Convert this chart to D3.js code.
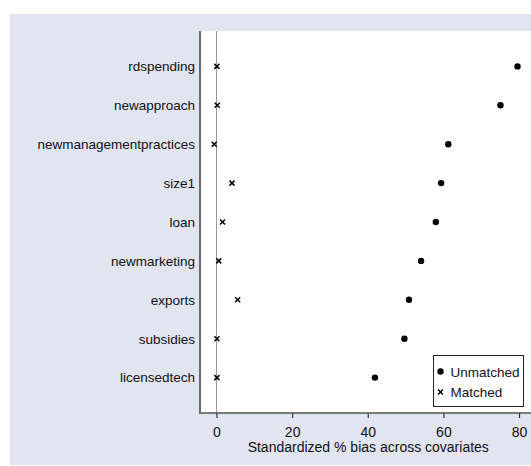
<!DOCTYPE html>
<html>
<head>
<meta charset="utf-8">
<script src="https://cdn.jsdelivr.net/npm/d3@7"></script>
<style>
  body { margin: 0; background: #fff; }
  text { font-family: "Liberation Sans", Arial, sans-serif; fill: #111; }
</style>
</head>
<body>
<div id="chart"></div>
<script>
// covariates, top to bottom
const categories = ['rdspending', 'newapproach', 'newmanagementpractices', 'size1', 'loan',
    'newmarketing', 'exports', 'subsidies', 'licensedtech'];
const unmatched = [79.6, 75.1, 61.3, 59.4, 58.0, 54.1, 50.9, 49.7, 41.9];
const matched = [0.1, 0.2, -0.6, 4.1, 1.6, 0.6, 5.6, 0.1, 0.1];
const xTicks = [0, 20, 40, 60, 80];
const xTitle = 'Standardized % bias across covariates';
const legendLabels = ['Unmatched', 'Matched'];

const width = 531, height = 466;
const plot = { left: 200, top: 31, right: 531, bottom: 413 };

const svg = d3.select('#chart')
    .append('svg')
    .attr('width', width)
    .attr('height', height);

// graph region
svg.append('rect')
    .attr('x', 10).attr('y', 14)
    .attr('width', width - 10).attr('height', 451)
    .attr('fill', '#e1e5f0');

// plot region
svg.append('rect')
    .attr('x', plot.left).attr('y', plot.top)
    .attr('width', plot.right - plot.left).attr('height', plot.bottom - plot.top)
    .attr('fill', '#fff');

const x = d3.scaleLinear()
    .domain([0, 80])
    .range([216.5, 519]);

const y = d3.scalePoint()
    .domain(categories)
    .range([plot.top, plot.bottom])
    .padding(0.91);

// zero reference line
svg.append('line')
    .attr('x1', x(0)).attr('x2', x(0))
    .attr('y1', plot.top).attr('y2', plot.bottom)
    .attr('stroke', '#9a9a9a')
    .attr('stroke-width', 1);

// x axis
const xAxis = svg.append('g')
    .attr('transform', `translate(0,${plot.bottom})`)
    .call(d3.axisBottom(x).tickValues(xTicks).tickSize(5).tickPadding(9).tickSizeOuter(0));
xAxis.select('.domain').remove();
xAxis.selectAll('.tick line').attr('stroke', '#333').attr('stroke-width', 1.2);
xAxis.selectAll('.tick text')
    .style('font-size', '14px')
    .style('font-family', '"Liberation Sans", Arial, sans-serif')
    .attr('fill', '#111');

svg.append('line')
    .attr('x1', plot.left - 1).attr('x2', plot.right)
    .attr('y1', plot.bottom).attr('y2', plot.bottom)
    .attr('stroke', '#555').attr('stroke-width', 1.5);

// y axis
const yAxis = svg.append('g')
    .attr('transform', `translate(${plot.left},0)`)
    .call(d3.axisLeft(y).tickSize(0).tickPadding(5));
yAxis.select('.domain').remove();
yAxis.selectAll('.tick text')
    .style('font-size', '13.5px')
    .style('font-family', '"Liberation Sans", Arial, sans-serif')
    .attr('fill', '#111');

svg.append('line')
    .attr('x1', plot.left).attr('x2', plot.left)
    .attr('y1', plot.top).attr('y2', plot.bottom)
    .attr('stroke', '#6a6a6a').attr('stroke-width', 2);

// axis title
svg.append('text')
    .attr('x', (x(0) + x(80)) / 2 + 0.5)
    .attr('y', 452)
    .attr('text-anchor', 'middle')
    .style('font-size', '14px')
    .text(xTitle);

const crossPath = 'M-2.5,-2.5L2.5,2.5M-2.5,2.5L2.5,-2.5';

// unmatched dots
svg.selectAll('.unmatched')
    .data(categories)
    .enter().append('circle')
    .attr('class', 'unmatched')
    .attr('cx', (d, i) => x(unmatched[i]))
    .attr('cy', d => y(d))
    .attr('r', 3.2)
    .attr('fill', '#000');

// matched crosses
svg.selectAll('.matched')
    .data(categories)
    .enter().append('path')
    .attr('class', 'matched')
    .attr('transform', (d, i) => `translate(${x(matched[i])},${y(d)})`)
    .attr('d', crossPath)
    .attr('stroke', '#000')
    .attr('stroke-width', 1.5)
    .attr('fill', 'none');

// legend
const legend = svg.append('g').attr('transform', 'translate(433.5,355.5)');
legend.append('rect')
    .attr('width', 90).attr('height', 51)
    .attr('fill', '#fff')
    .attr('stroke', '#222')
    .attr('stroke-width', 1);

legend.append('circle')
    .attr('cx', 7).attr('cy', 16)
    .attr('r', 3.2).attr('fill', '#000');
legend.append('path')
    .attr('transform', 'translate(7,36.5)')
    .attr('d', crossPath)
    .attr('stroke', '#000').attr('stroke-width', 1.5).attr('fill', 'none');

legend.selectAll('.legend-label')
    .data(legendLabels)
    .enter().append('text')
    .attr('class', 'legend-label')
    .attr('x', 17)
    .attr('y', (d, i) => 21 + i * 20.5)
    .style('font-size', '13.5px')
    .text(d => d);
</script>
</body>
</html>
